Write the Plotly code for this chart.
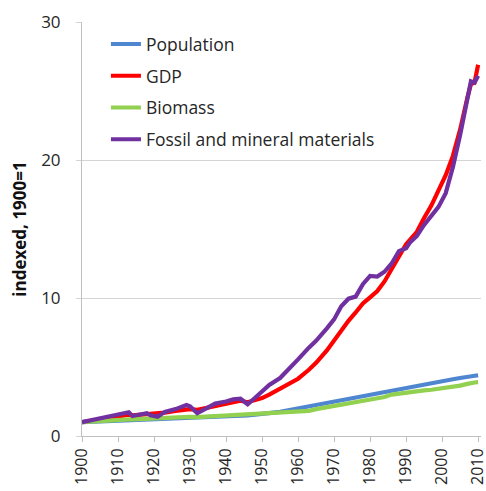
import plotly.graph_objects as go

years = [1900, 1903, 1906, 1909, 1911, 1913, 1914, 1916, 1918, 1919, 1921, 1923, 1926, 1929,
         1930, 1932, 1934, 1937, 1940, 1942, 1944, 1946, 1948, 1950, 1952, 1955, 1958, 1960,
         1963, 1965, 1968, 1970, 1972, 1974, 1976, 1978, 1980, 1982, 1984, 1986, 1988, 1990,
         1991, 1993, 1995, 1997, 1999, 2001, 2003, 2005, 2007, 2008, 2009, 2010]

population = [1.0, 1.03, 1.06, 1.09, 1.11, 1.13, 1.14, 1.15, 1.16, 1.17, 1.19, 1.21, 1.24, 1.28,
              1.29, 1.31, 1.33, 1.37, 1.41, 1.44, 1.47, 1.5, 1.55, 1.6, 1.66, 1.75, 1.9, 2.0,
              2.15, 2.25, 2.42, 2.53, 2.63, 2.72, 2.8, 2.88, 2.96, 3.06, 3.16, 3.27, 3.38, 3.5,
              3.55, 3.65, 3.74, 3.83, 3.92, 4.02, 4.11, 4.2, 4.28, 4.32, 4.36, 4.4]

gdp = [1.0, 1.12, 1.25, 1.38, 1.45, 1.55, 1.5, 1.55, 1.58, 1.56, 1.6, 1.7, 1.82, 1.95,
       1.95, 1.9, 2.0, 2.2, 2.35, 2.45, 2.55, 2.45, 2.6, 2.75, 3.0, 3.4, 3.85, 4.15,
       4.8, 5.3, 6.2, 6.9, 7.7, 8.35, 8.95, 9.6, 10.05, 10.5, 11.2, 12.1, 13.1, 13.9,
       14.2, 14.8, 15.8, 16.7, 17.8, 18.9, 20.3, 22.2, 24.5, 25.5, 25.6, 26.9]

biomass = [1.0, 1.06, 1.1, 1.15, 1.18, 1.21, 1.2, 1.23, 1.25, 1.25, 1.27, 1.3, 1.33, 1.37,
           1.38, 1.37, 1.4, 1.44, 1.48, 1.5, 1.51, 1.52, 1.55, 1.58, 1.6, 1.65, 1.7, 1.74,
           1.82, 1.95, 2.08, 2.2, 2.3, 2.4, 2.48, 2.55, 2.62, 2.7, 2.82, 3.0, 3.08, 3.15,
           3.17, 3.22, 3.3, 3.35, 3.42, 3.48, 3.55, 3.65, 3.78, 3.85, 3.88, 3.9]

fossil = [1.0, 1.15, 1.3, 1.5, 1.58, 1.72, 1.45, 1.58, 1.65, 1.5, 1.4, 1.75, 1.95, 2.25,
          2.15, 1.65, 1.9, 2.35, 2.5, 2.65, 2.7, 2.3, 2.75, 3.2, 3.7, 4.2, 4.95, 5.55,
          6.4, 6.9, 7.8, 8.45, 9.4, 9.95, 10.1, 11.0, 11.6, 11.55, 11.9, 12.5, 13.4, 13.6,
          14.0, 14.5, 15.3, 16.0, 16.6, 17.6, 19.5, 21.8, 24.6, 25.7, 25.6, 26.1]

series = [
    ("Population", population, "#4F86D0"),
    ("GDP", gdp, "#FF0000"),
    ("Biomass", biomass, "#92D050"),
    ("Fossil and mineral materials", fossil, "#7030A0"),
]

x_ticks = list(range(1900, 2011, 10))
y_ticks = [0, 10, 20, 30]

FONT = "Open Sans"
TXT = "#262626"

fig = go.Figure()
for i, (name, vals, col) in enumerate(series):
    fig.add_trace(go.Scatter(
        x=years, y=vals, name=name, mode="lines",
        line=dict(color=col, width=4.2),
        legendgroup=f"g{i}",
    ))

fig.update_layout(
    width=486, height=491,
    margin=dict(l=82, r=5, t=22, b=55),
    paper_bgcolor="white", plot_bgcolor="white",
    font=dict(family=FONT, size=17, color=TXT),
    showlegend=True,
    legend=dict(
        x=0.06, y=0.99, xanchor="left", yanchor="top",
        bgcolor="rgba(0,0,0,0)", font=dict(family=FONT, size=17.5, color=TXT),
        traceorder="grouped", tracegroupgap=6,
    ),
    xaxis=dict(
        range=[1900, 2010.8], tickvals=x_ticks, ticktext=[str(v) for v in x_ticks],
        tickangle=-90, showgrid=False, zeroline=False, automargin=False,
        ticklabeloverflow="allow",
        showline=True, linecolor="#BFBFBF", linewidth=1,
        ticks="outside", ticklen=5, tickcolor="#BFBFBF",
        tickfont=dict(family=FONT, size=16, color=TXT),
    ),
    yaxis=dict(
        range=[0, 30], tickvals=y_ticks, showgrid=True, gridcolor="#D4D4D4",
        zeroline=False, showline=True, linecolor="#BFBFBF", linewidth=1,
        ticks="outside", ticklen=5, tickcolor="#D4D4D4", automargin=False,
        ticklabelstandoff=12,
        tickfont=dict(family=FONT, size=17, color=TXT),
        title=dict(text="<b>indexed, 1900=1</b>", font=dict(family=FONT, size=17, color="#111111"),
                   standoff=10),
    ),
)

fig.write_html(
    "out.html",
    config={"displayModeBar": False},
    post_script="document.body.style.margin='0';document.body.style.overflow='hidden';",
)
